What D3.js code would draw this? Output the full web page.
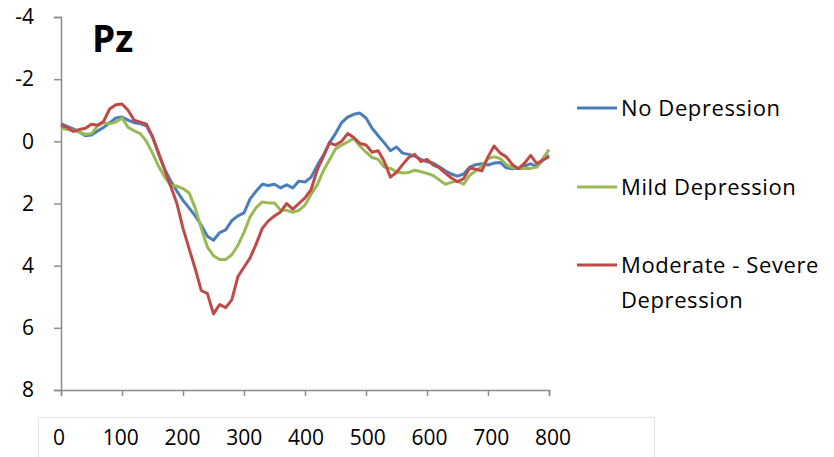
<!DOCTYPE html>
<html>
<head>
<meta charset="utf-8">
<script src="https://cdnjs.cloudflare.com/ajax/libs/d3/7.8.5/d3.min.js"></script>
<style>
  body { margin: 0; background: #fff; }
  text { font-family: "Open Sans", "Noto Sans", sans-serif; fill: #000; }
</style>
</head>
<body>
<div id="chart"></div>
<script>
// time axis, every 10 ms
var times = d3.range(0, 801, 10);

var noDep = [-0.57,-0.48,-0.40,-0.30,-0.18,-0.20,-0.33,-0.45,-0.60,-0.75,
  -0.78,-0.68,-0.60,-0.57,-0.50,-0.15,0.40,0.90,1.28,1.60,
  1.90,2.14,2.40,2.70,3.05,3.18,2.94,2.85,2.55,2.40,
  2.30,1.85,1.60,1.38,1.42,1.38,1.50,1.40,1.50,1.28,
  1.31,1.15,0.78,0.45,0.05,-0.25,-0.60,-0.78,-0.87,-0.91,
  -0.75,-0.42,-0.18,0.05,0.30,0.18,0.38,0.42,0.48,0.58,
  0.66,0.70,0.82,0.95,1.05,1.12,1.05,0.83,0.75,0.72,
  0.76,0.70,0.68,0.85,0.88,0.87,0.80,0.72,0.82,0.60,0.45];

var mildDep = [-0.42,-0.38,-0.35,-0.30,-0.22,-0.25,-0.50,-0.60,-0.56,-0.62,
  -0.75,-0.45,-0.34,-0.25,0.00,0.38,0.80,1.15,1.42,1.44,
  1.52,1.66,2.15,2.80,3.40,3.68,3.80,3.80,3.65,3.35,
  2.93,2.43,2.13,1.95,1.98,1.98,2.22,2.22,2.28,2.22,
  2.05,1.70,1.40,0.95,0.60,0.25,0.12,0.02,-0.10,0.15,
  0.35,0.52,0.58,0.83,0.87,0.98,1.02,1.00,0.93,0.98,
  1.03,1.10,1.24,1.38,1.32,1.28,1.38,1.09,0.95,0.80,
  0.55,0.50,0.55,0.75,0.85,0.87,0.87,0.87,0.83,0.55,0.27];

var modSevDep = [-0.51,-0.45,-0.32,-0.38,-0.42,-0.55,-0.52,-0.65,-1.05,-1.18,
  -1.20,-1.00,-0.68,-0.62,-0.55,-0.15,0.38,0.92,1.45,2.00,
  2.80,3.45,4.10,4.80,4.90,5.55,5.25,5.35,5.10,4.35,
  4.05,3.75,3.30,2.80,2.56,2.40,2.27,2.00,2.18,2.00,
  1.82,1.55,0.92,0.50,0.05,0.12,0.00,-0.25,-0.12,0.07,
  0.12,0.35,0.30,0.65,1.15,1.00,0.75,0.52,0.42,0.65,
  0.58,0.76,0.85,1.02,1.18,1.30,1.20,0.85,0.90,0.95,
  0.50,0.15,0.38,0.50,0.75,0.88,0.70,0.45,0.72,0.60,0.50];

var seriesNames = ["No Depression", "Mild Depression", "Moderate - Severe Depression"];
var seriesColors = ["#4a7ebb", "#98b954", "#be4b48"];
var yTicks = [-4, -2, 0, 2, 4, 6, 8];
var xTickLabels = ["0", "100", "200", "300", "400", "500", "600", "700", "800"];

var width = 834, height = 457;

var svg = d3.select("#chart").append("svg")
  .attr("width", width)
  .attr("height", height);

var x = d3.scaleLinear().domain([0, 800]).range([61, 549]);
var y = d3.scaleLinear().domain([-4, 8]).range([17, 390]);

// y axis
var yAxis = svg.append("g")
  .attr("transform", "translate(61,0)")
  .call(d3.axisLeft(y).tickValues(yTicks).tickSize(7).tickPadding(20)
    .tickFormat(function(d) { return String(d); }));
yAxis.select(".domain").attr("stroke", "#8c8c8c").attr("stroke-width", 1.5);
yAxis.selectAll(".tick line").attr("stroke", "#8c8c8c").attr("stroke-width", 1.5);
yAxis.selectAll(".tick text")
  .style("font-size", "21px")
  .style("font-family", "'Open Sans', sans-serif")
  .attr("fill", "#000");

// x axis (ticks only, labels sit in the box below)
var xAxis = svg.append("g")
  .attr("transform", "translate(0,390)")
  .call(d3.axisBottom(x).tickValues(d3.range(0, 801, 100)).tickSize(6).tickFormat(""));
xAxis.select(".domain").attr("stroke", "#8c8c8c").attr("stroke-width", 1.5);
xAxis.selectAll(".tick line").attr("stroke", "#8c8c8c").attr("stroke-width", 1.5);

// label box
svg.append("rect")
  .attr("x", 38.5).attr("y", 417.5)
  .attr("width", 616).attr("height", 80)
  .attr("fill", "none")
  .attr("stroke", "#e6e6e6");

var xl = d3.scalePoint().domain(xTickLabels).range([59, 553]);
svg.append("g").selectAll("text")
  .data(xTickLabels)
  .enter().append("text")
  .attr("x", function(d) { return xl(d); })
  .attr("y", 445)
  .attr("text-anchor", "middle")
  .style("font-size", "21px")
  .text(function(d) { return d; });

// lines
var line = d3.line()
  .x(function(d, i) { return x(times[i]); })
  .y(function(d) { return y(d); });

[noDep, mildDep, modSevDep].forEach(function(s, i) {
  svg.append("path")
    .datum(s)
    .attr("d", line)
    .attr("fill", "none")
    .attr("stroke", seriesColors[i])
    .attr("stroke-width", 3)
    .attr("stroke-linejoin", "round");
});

// title
svg.append("text")
  .attr("x", 92).attr("y", 52)
  .style("font-size", "37px")
  .style("font-weight", "bold")
  .text("Pz");

// legend
var legendY = [108, 187, 265];
var legend = svg.append("g");
seriesNames.forEach(function(name, i) {
  legend.append("line")
    .attr("x1", 577).attr("x2", 617)
    .attr("y1", legendY[i]).attr("y2", legendY[i])
    .attr("stroke", seriesColors[i])
    .attr("stroke-width", 3);
  var t = legend.append("text")
    .attr("x", 621).attr("y", legendY[i] + 8)
    .style("font-size", "22px")
    .style("letter-spacing", "0.6px");
  if (i == 2) {
    t.append("tspan").text("Moderate - Severe");
    t.append("tspan").attr("x", 621).attr("dy", 35).text("Depression");
  } else {
    t.text(name);
  }
});
</script>
</body>
</html>
